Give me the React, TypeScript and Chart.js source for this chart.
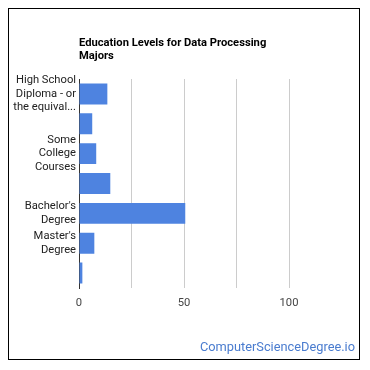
import React, { useEffect, useRef } from "react";
import { Chart, registerables } from "chart.js";

Chart.register(...registerables);

const categories: (string | string[])[] = [
  ["High School", "Diploma - or", "the equival..."],
  "",
  ["Some", "College", "Courses"],
  "",
  ["Bachelor's", "Degree"],
  ["Master's", "Degree"],
  "",
];
const values = [13.5, 6.3, 8.2, 14.9, 50.6, 7.3, 1.6];
const xTickLabels = [0, 50, 100];
const titleLines = ["Education Levels for Data Processing", "Majors"];
const watermark = "ComputerScienceDegree.io";

export default function App() {
  const ref = useRef<HTMLCanvasElement>(null);
  useEffect(() => {
    if (!ref.current) return;
    const overlay = {
      id: "overlay",
      afterDraw(chart: any) {
        const ctx = chart.ctx;
        ctx.save();
        ctx.fillStyle = "#000";
        ctx.font = "bold 11.2px Roboto";
        ctx.textAlign = "left";
        ctx.textBaseline = "alphabetic";
        titleLines.forEach((t, i) => ctx.fillText(t, chart.chartArea.left, 36.5 + i * 13.4));
        ctx.fillStyle = "#4a7ccf";
        ctx.font = "12.8px Roboto";
        ctx.textAlign = "right";
        ctx.fillText(watermark, 346, 342);
        ctx.restore();
      },
    };
    const chart = new Chart(ref.current, {
      type: "bar",
      data: {
        labels: categories,
        datasets: [
          {
            data: values,
            backgroundColor: "#4e83e0",
            barPercentage: 0.7,
            categoryPercentage: 1,
          },
        ],
      },
      options: {
        indexAxis: "y",
        responsive: false,
        animation: false,
        devicePixelRatio: 1,
        layout: { padding: { left: 0, top: 70, right: 17.5, bottom: 0 } },
        plugins: { legend: { display: false }, tooltip: { enabled: false }, title: { display: false } },
        scales: {
          x: {
            min: 0,
            max: 125,
            ticks: {
              stepSize: 25,
              color: "#444",
              font: { family: "Roboto", size: 11.2 },
              padding: 8,
              maxRotation: 0,
              callback: (v: any) => (xTickLabels.includes(Number(v)) ? String(v) : ""),
            },
            grid: {
              drawTicks: false,
              color: (c: any) =>
                c.tick && (c.tick.value === 0 || c.tick.value === 125) ? "rgba(0,0,0,0)" : "#cccccc",
            },
            border: { display: false },
            afterFit: (s: any) => {
              s.height = 71;
            },
          },
          y: {
            ticks: {
              color: "#222",
              font: { family: "Roboto", size: 11.2, lineHeight: 1.2 },
              padding: 3,
              autoSkip: false,
            },
            grid: { display: false, drawTicks: false },
            border: { display: true, color: "#333", width: 1 },
            afterFit: (s: any) => {
              s.width = 70;
            },
          },
        },
      },
      plugins: [overlay],
    });
    return () => chart.destroy();
  }, []);
  return (
    <div style={{ width: 350, height: 350, border: "1px solid #000" }}>
      <canvas ref={ref} width={350} height={350} style={{ display: "block" }} />
    </div>
  );
}
